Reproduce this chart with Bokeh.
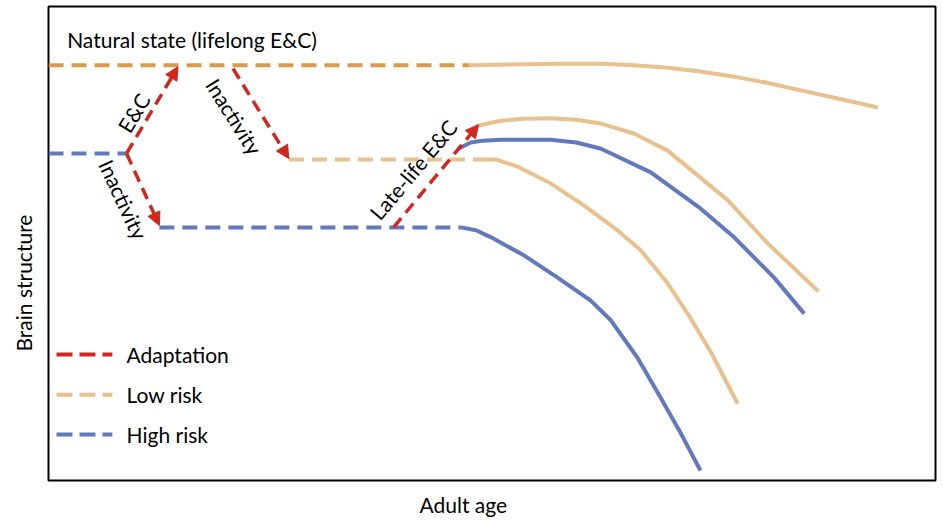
from bokeh.plotting import figure
from bokeh.models import Arrow, NormalHead, Title
from bokeh.core.properties import value
from bokeh.embed import file_html
from bokeh.resources import INLINE

# ---------------- data (arbitrary units: adult age 0-100, brain structure 0-100) ----------------
# Natural state (lifelong E&C)
natural_dash_x = [0.0, 47.4]
natural_dash_y = [87.6, 87.6]
natural_x = [47.4, 53.3, 58.0, 62.3, 66.0, 69.8, 73.5, 77.3, 81.0, 84.8, 89.0, 93.5]
natural_y = [87.6, 87.8, 87.9, 87.9, 87.6, 87.1, 86.3, 85.2, 83.9, 82.3, 80.6, 78.7]

# High risk baseline (before adaptation)
high_start_x = [0.0, 8.8]
high_start_y = [69.0, 69.0]

# High risk after early inactivity
high_dash_x = [12.5, 46.5]
high_dash_y = [53.4, 53.4]
high_x = [46.5, 48.2, 49.9, 53.6, 57.4, 61.1, 63.4, 66.4, 69.0, 71.3, 73.5]
high_y = [53.4, 52.8, 51.3, 47.5, 42.8, 38.0, 33.8, 25.9, 17.5, 9.9, 2.1]

# Low risk after inactivity from natural state
low_dash_x = [27.1, 49.3]
low_dash_y = [67.7, 67.7]
low_x = [49.3, 50.5, 52.9, 56.6, 60.4, 64.2, 66.8, 69.8, 72.4, 74.7, 77.7]
low_y = [67.7, 67.7, 66.2, 62.7, 58.0, 52.7, 48.5, 41.6, 34.2, 27.0, 16.2]

# After late-life E&C
late_low_x = [48.5, 51.0, 53.5, 56.6, 59.5, 62.3, 66.0, 69.8, 73.5, 76.6, 81.1, 86.8]
late_low_y = [74.9, 75.9, 76.3, 76.4, 76.1, 75.3, 73.2, 69.6, 63.9, 59.1, 50.0, 39.9]
late_high_x = [46.2, 47.6, 49.0, 51.0, 56.6, 59.5, 62.3, 67.9, 73.5, 77.3, 81.8, 85.2]
late_high_y = [70.0, 71.3, 71.7, 71.9, 71.9, 71.3, 70.0, 65.0, 57.4, 51.3, 42.8, 35.2]

# Adaptation arrows
arrow_x0 = [8.8, 8.8, 20.8, 38.9]
arrow_y0 = [69.0, 69.0, 86.9, 53.4]
arrow_x1 = [14.6, 12.5, 27.1, 48.5]
arrow_y1 = [87.3, 53.8, 67.9, 75.1]

arrow_labels = ["E&C", "Inactivity", "Inactivity", "Late-life E&C"]
arrow_label_x = [9.6, 8.45, 20.95, 41.1]
arrow_label_y = [77.6, 59.3, 76.8, 65.6]
arrow_label_angle = [59, -65, -58, 50]

legend_labels = ["Adaptation", "Low risk", "High risk"]
x_title = "Adult age"
y_title = "Brain structure"

RED = "#D2261F"
ORANGE = "#D99A4C"
TAN = "#E8C18E"
BLUE = "#627ABD"
legend_colors = [RED, TAN, BLUE]
FONT = "Lato"
FS = "21px"

# ---------------- figure ----------------
p = figure(width=937, height=525, x_range=(0, 100), y_range=(0, 100),
           output_backend="svg", toolbar_location=None,
           min_border_left=47, min_border_right=2, min_border_top=6, min_border_bottom=45)
p.axis.visible = False
p.grid.visible = False
p.outline_line_color = "black"
p.outline_line_width = 2
p.background_fill_color = "white"
p.border_fill_color = "white"

p.add_layout(Title(text=x_title, align="left", offset=371, standoff=18, vertical_align="bottom",
                   text_font=FONT, text_font_size=FS, text_font_style="normal",
                   text_color="black"), "below")
p.add_layout(Title(text=y_title, align="left", offset=129, standoff=21, vertical_align="top",
                   text_font=FONT, text_font_size=FS, text_font_style="normal",
                   text_color="black"), "left")

DASH = "15 8"
LW = 4

p.line(natural_dash_x, natural_dash_y, color=ORANGE, line_width=LW, line_dash=DASH)
p.line(natural_x, natural_y, color=TAN, line_width=LW, line_join="round")

p.line(high_start_x, high_start_y, color=BLUE, line_width=LW, line_dash=DASH)
p.line(high_dash_x, high_dash_y, color=BLUE, line_width=LW, line_dash=DASH)
p.line(high_x, high_y, color=BLUE, line_width=LW, line_join="round")

p.line(low_dash_x, low_dash_y, color=TAN, line_width=LW, line_dash=DASH)
p.line(low_x, low_y, color=TAN, line_width=LW, line_join="round")

p.line(late_low_x, late_low_y, color=TAN, line_width=LW, line_join="round")
p.line(late_high_x, late_high_y, color=BLUE, line_width=LW, line_join="round")

for x0, y0, x1, y1 in zip(arrow_x0, arrow_y0, arrow_x1, arrow_y1):
    p.add_layout(Arrow(x_start=x0, y_start=y0, x_end=x1, y_end=y1,
                       line_color=RED, line_width=3.5, line_dash="12 7",
                       end=NormalHead(size=13, fill_color=RED, line_color=RED, line_width=1)))

p.text(x=arrow_label_x, y=arrow_label_y, text=arrow_labels, angle=arrow_label_angle,
       angle_units="deg", text_font=value(FONT), text_font_size=value(FS),
       text_align="center", text_baseline="middle", text_color="black")

p.text(x=[2.1], y=[93.0], text=["Natural state (lifelong E&C)"],
       text_font=value(FONT), text_font_size=value(FS),
       text_align="left", text_baseline="middle", text_color="black")

# legend (drawn manually)
legend_row_y = [26.6, 18.1, 9.7]
for lab, col, yy in zip(legend_labels, legend_colors, legend_row_y):
    p.line([0.9, 7.2], [yy, yy], color=col, line_width=LW, line_dash="16 7")
p.text(x=[8.8] * 3, y=legend_row_y, text=legend_labels,
       text_font=value(FONT), text_font_size=value(FS),
       text_align="left", text_baseline="middle", text_color="black")

open("out.html", "w").write(file_html(p, INLINE))
